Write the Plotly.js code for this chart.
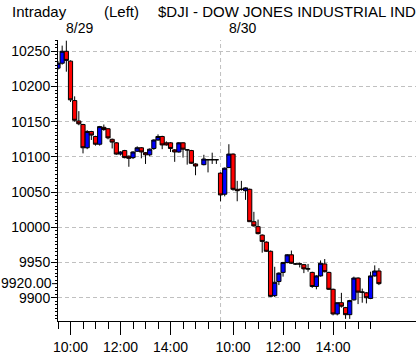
<!DOCTYPE html>
<html>
<head>
<meta charset="utf-8">
<script src="https://cdn.plot.ly/plotly-3.0.1.min.js"></script>
<style>
html,body{margin:0;padding:0;background:#fff;overflow:hidden;}
#chart{width:416px;height:357px;}
</style>
</head>
<body>
<div id="chart"></div>
<script>
// 10-minute bar start times (same session grid for both days)
const barTimes = ["9:30","9:40","9:50","10:00","10:10","10:20","10:30","10:40","10:50","11:00",
  "11:10","11:20","11:30","11:40","11:50","12:00","12:10","12:20","12:30","12:40",
  "12:50","13:00","13:10","13:20","13:30","13:40","13:50","14:00","14:10","14:20",
  "14:30","14:40","14:50","15:00","15:10","15:20","15:30","15:40","15:50"];

const dayLabels = ["8/29", "8/30"];

// Day 1 (8/29)
const open1  = [10226,10233,10250,10236,10180,10151,10146,10113,10136,10129,
  10118,10142,10140,10125,10120,10104,10109,10101,10099,10108,
  10113,10106,10103,10112,10124,10129,10120,10120,10110,10107,
  10120,10110,10109,10090,null,10089,10096,10096,10096];
const high1  = [10236,10258,10265,10237,10186,10165,10147,10138,10137,10130,
  10144,10146,10141,10126,10121,10108,10110,10102,10108,10115,
  10114,10107,10112,10125,10132,10130,10122,10121,10111,10121,
  10121,10111,10110,10091,null,10103,10097,10106,10097];
const low1   = [10224,10231,10221,10178,10150,10145,10105,10111,10124,10116,
  10116,10137,10125,10112,10103,10102,10098,10086,10097,10107,
  10098,10090,10101,10110,10123,10111,10116,10107,10093,10106,
  10099,10089,10090,10074,null,10088,10078,10090,10090];
const close1 = [10233,10250,10237,10181,10152,10147,10113,10136,10131,10118,
  10143,10139,10127,10121,10104,10107,10099,10098,10107,10113,
  10107,10103,10111,10124,10129,10117,10117,10112,10107,10120,
  10111,10110,10091,10087,null,10097,10096,10096,10096];

// Day 2 (8/30)
const open2  = [10077,10047,10085,10104,10054,10054,10052,10054,10008,10001,
  9989,9979,9966,9903,9923,9936,9950,9961,9948,9948,
  9947,9941,9936,9916,9931,9948,9936,9912,9877,9893,
  9886,9876,9897,9928,9908,9907,9899,9931,9938];
const high2  = [10078,10085,10118,10105,10066,10066,10057,10055,10022,10011,
  9990,9980,9967,9944,9936,9951,9962,9967,9949,9950,
  9948,9948,9937,9932,9953,9955,9937,9913,9893,9907,
  9887,9897,9930,9929,9913,9908,9937,9946,9942];
const low2   = [10037,10044,10084,10052,10037,10052,10039,10008,10001,9990,
  9964,9965,9901,9901,9918,9930,9949,9948,9947,9943,
  9935,9937,9914,9912,9930,9936,9911,9875,9875,9886,
  9870,9870,9896,9891,9893,9892,9898,9930,9918];
const close2 = [10046,10084,10104,10054,10052,10054,10056,10008,10002,9991,
  9980,9966,9902,9922,9935,9950,9961,9949,9948,9948,
  9941,9941,9916,9931,9949,9937,9912,9877,9893,9888,
  9876,9896,9928,9908,9908,9900,9931,9938,9920];

// axis tick definitions
const labelTimes = ["10:00","12:00","14:00"];
const minorTimes = ["9:30","10:00","10:30","11:00","11:30","12:00","12:30","13:00","13:30","14:00","14:30","15:00","15:30"];
const yTickVals = [9900,9950,10000,10050,10100,10150,10200,10250];
const yTickText = ["9900","9950","10000","10050","10100","10150","10200","10250"];
const lastPrice = 9920;
const lastPriceText = "9920.00";

const titleLeft = "Intraday";
const titleMid = "(Left)";
const titleRight = "$DJI - DOW JONES INDUSTRIAL IND";

// session-minute scale: each trading day 9:30-16:00 is 390 minutes, days abutting
function pos(day, t){
  const p = t.split(":").map(Number);
  return day*390 + p[0]*60 + p[1] - 570;
}

const x = barTimes.map(t=>pos(0,t)).concat(barTimes.map(t=>pos(1,t)));
const FONT = "'Liberation Sans', Arial, sans-serif";
const TICKFONT = {family: FONT, size: 14, color: "#000000"};
const TITLEFONT = {family: FONT, size: 15, color: "#000000"};

const tickVals = [], tickText = [];
[0,1].forEach(d=>labelTimes.forEach(t=>{tickVals.push(pos(d,t)); tickText.push(t);}));
const minorVals = [];
[0,1].forEach(d=>minorTimes.forEach(t=>minorVals.push(pos(d,t))));

const trace = {
  type: "candlestick",
  x: x,
  open: open1.concat(open2),
  high: high1.concat(high2),
  low: low1.concat(low2),
  close: close1.concat(close2),
  increasing: {line: {color: "#000000", width: 1}, fillcolor: "#0000FF"},
  decreasing: {line: {color: "#000000", width: 1}, fillcolor: "#FF0000"},
  whiskerwidth: 0,
  hoverinfo: "skip"
};

const yRange = [9867, 10266];
const titleY = (321-11)/281;
const dateY = (321-27.5)/281;

const layout = {
  width: 416, height: 357,
  margin: {l: 58, r: 0, t: 40, b: 36, pad: 0},
  paper_bgcolor: "#ffffff", plot_bgcolor: "#ffffff",
  showlegend: false,
  boxgap: 0, boxgroupgap: 0,
  font: TICKFONT,
  xaxis: {
    type: "linear", range: [0, 859], fixedrange: true,
    showgrid: false, zeroline: false,
    showline: true, linecolor: "#000000", linewidth: 1,
    ticks: "outside", ticklen: 13, tickwidth: 1, tickcolor: "#000000",
    tickmode: "array", tickvals: tickVals, ticktext: tickText,
    tickfont: TICKFONT,
    minor: {tickmode: "array", tickvals: minorVals, ticks: "outside", ticklen: 7, tickwidth: 1, tickcolor: "#000000", showgrid: false},
    rangeslider: {visible: false}
  },
  yaxis: {
    range: yRange, fixedrange: true,
    tickmode: "array", tickvals: yTickVals, ticktext: yTickText,
    showgrid: true, gridcolor: "#c0c0c0", gridwidth: 1, griddash: "4px,3px",
    zeroline: false,
    showline: true, linecolor: "#000000", linewidth: 1,
    ticks: "outside", ticklen: 6, tickwidth: 1, tickcolor: "#000000",
    ticklabelstandoff: -2,
    tickfont: TICKFONT,
    minor: {tickmode: "linear", tick0: 0, dtick: 5, ticks: "outside", ticklen: 2, tickwidth: 1, tickcolor: "#000000", showgrid: false}
  },
  shapes: [
    {type: "line", xref: "x", yref: "paper", x0: pos(1,"9:30"), x1: pos(1,"9:30"), y0: 0, y1: 1,
     line: {color: "#c0c0c0", width: 1, dash: "4px,3px"}, layer: "below"},
    {type: "line", xref: "paper", yref: "y", xsizemode: "pixel", xanchor: 0, x0: -6, x1: 0, y0: lastPrice, y1: lastPrice,
     line: {color: "#000000", width: 1}}
  ],
  annotations: [
    {text: titleLeft, xref: "paper", yref: "paper", x: (10-58)/358, y: titleY, xanchor: "left", yanchor: "middle", showarrow: false, font: TITLEFONT},
    {text: titleMid, xref: "paper", yref: "paper", x: (102-58)/358, y: titleY, xanchor: "left", yanchor: "middle", showarrow: false, font: TITLEFONT},
    {text: titleRight, xref: "paper", yref: "paper", x: (156-58)/358, y: titleY, xanchor: "left", yanchor: "middle", showarrow: false, font: TITLEFONT},
    {text: dayLabels[0], xref: "x", yref: "paper", x: pos(0,"9:30"), xshift: 6, y: dateY, xanchor: "left", yanchor: "middle", showarrow: false, font: TICKFONT},
    {text: dayLabels[1], xref: "x", yref: "paper", x: pos(1,"9:30"), xshift: 6, y: dateY, xanchor: "left", yanchor: "middle", showarrow: false, font: TICKFONT},
    {text: lastPriceText, xref: "paper", yref: "y", x: 0, xshift: -5, yshift: 1, y: lastPrice, xanchor: "right", yanchor: "middle", showarrow: false, font: TICKFONT, borderpad: 0}
  ]
};

Plotly.newPlot("chart", [trace], layout, {staticPlot: true, displayModeBar: false});
</script>
</body>
</html>
